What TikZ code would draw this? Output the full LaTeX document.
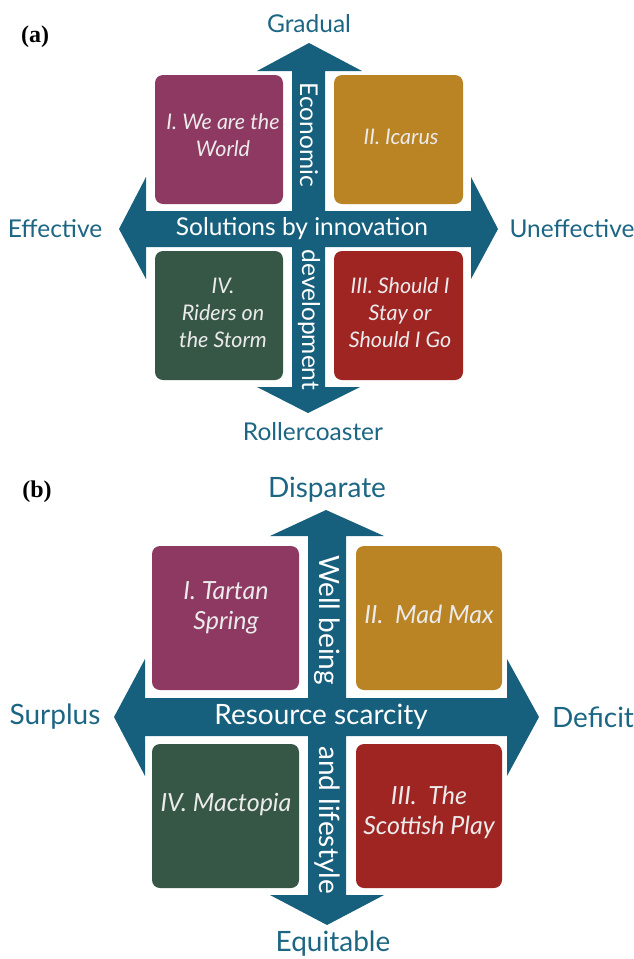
\documentclass[tikz,border=0pt]{standalone}
\usepackage{fontspec}
\setmainfont{Lato}
\newfontfamily\panelfont{Liberation Serif}
\usetikzlibrary{
  positioning,
}
\definecolor{axisblue}{RGB}{22, 96, 125}
\definecolor{poleblue}{RGB}{28, 102, 132}
\definecolor{plum}{RGB}{142, 57, 97}
\definecolor{ochre}{RGB}{186, 131, 36}
\definecolor{pine}{RGB}{55, 87, 70}
\definecolor{brick}{RGB}{159, 37, 35}
\tikzstyle{quadrant} = [
  rounded corners=8pt,
]
\tikzstyle{pole} = [
  text=poleblue,
  font=\fontsize{24.5}{26}\selectfont,
]
\tikzstyle{axislabel} = [
  text=white,
  font=\fontsize{24.5}{26}\selectfont,
]
\tikzstyle{scenario} = [
  text=white!92!black,
  align=center,
  font=\itshape\fontsize{21.5}{27}\selectfont,
]
\tikzstyle{panel} = [
  font=\panelfont\bfseries\fontsize{24}{26}\selectfont,
]

\begin{document}
\begin{tikzpicture}[x=1pt, y=-1pt]

        \useasboundingbox (0,0) rectangle (634,959);

        % (a) economic development / solutions by innovation
        \fill [axisblue] (309,43) -- (362,71) -- (325,71) -- (325,211)
              -- (471,211) -- (471,177) -- (498,229) -- (471,279) -- (471,247)
              -- (325,247) -- (325,387) -- (360,387) -- (308,413) -- (257,387)
              -- (292,387) -- (292,247) -- (146,247) -- (146,279) -- (119,229)
              -- (146,177) -- (146,211) -- (292,211) -- (292,71) -- (257,71)
              -- cycle;

        \fill [quadrant, plum] (155,75) rectangle (283,204);
        \fill [quadrant, ochre] (334,75) rectangle (463,204);
        \fill [quadrant, pine] (155,251) rectangle (283,380);
        \fill [quadrant, brick] (334,251) rectangle (463,380);

        \node [panel] (capa) at (35,37) {(a)};

        \node [pole] (gradual) at (309,24) {Gradual};
        \node [pole] (effective) at (55,229) {Effective};
        \node [pole] (uneffective) at (572,229) {Uneffective};
        \node [pole] (roller) at (313,432) {Rollercoaster};

        \node [axislabel] (innov) at (302,229) {Solutions by innovation};
        \node [axislabel, rotate=-90] (econ) at (309,135) {Economic};
        \node [axislabel, rotate=-90] (devel) at (309,320) {development};

        \node [scenario] (world) at (223,135) {I. We are the\\World};
        \node [scenario] (icarus) at (401,137) {II. Icarus};
        \node [scenario] (riders) at (223,313) {IV.\\Riders on\\the Storm};
        \node [scenario] (clash) at (400,313) {III. Should I\\Stay or\\Should I Go};

        % (b) well being and lifestyle / resource scarcity
        \begin{scope}[
          pole/.append style={font=\fontsize{28}{30}\selectfont},
          axislabel/.append style={font=\fontsize{28}{30}\selectfont},
          scenario/.append style={font=\itshape\fontsize{25}{30}\selectfont},
        ]
        \fill [axisblue] (326,510) -- (384,536) -- (346,536) -- (346,698)
              -- (507,698) -- (507,659) -- (539,717) -- (507,776) -- (507,736)
              -- (346,736) -- (346,895) -- (384,895) -- (327,925) -- (270,895)
              -- (308,895) -- (308,736) -- (145,736) -- (145,776) -- (114,717)
              -- (145,659) -- (145,698) -- (308,698) -- (308,536) -- (270,536)
              -- cycle;

        \fill [quadrant, plum] (152,546) rectangle (299,690);
        \fill [quadrant, ochre] (356,546) rectangle (502,690);
        \fill [quadrant, pine] (152,744) rectangle (299,888);
        \fill [quadrant, brick] (356,744) rectangle (502,888);

        \node [panel] (capb) at (37,492) {(b)};

        \node [pole] (disparate) at (327,490) {Disparate};
        \node [pole] (surplus) at (55,717) {Surplus};
        \node [pole] (deficit) at (593,717) {Deficit};
        \node [pole] (equit) at (333,944) {Equitable};

        \node [axislabel] (scarcity) at (321,717) {Resource scarcity};
        \node [axislabel, rotate=-90] (wellb) at (327,620) {Well being};
        \node [axislabel, rotate=-90] (lifest) at (327,820) {and lifestyle};

        \node [scenario] (tartan) at (226,608) {I. Tartan\\Spring};
        \node [scenario] (madmax) at (429,614) {II.\ \ Mad Max};
        \node [scenario] (mactopia) at (226,805) {IV. Mactopia};
        \node [scenario] (scottish) at (429,812) {III.\ \ The\\Scottish Play};
        \end{scope}
      \end{tikzpicture}
\end{document}
